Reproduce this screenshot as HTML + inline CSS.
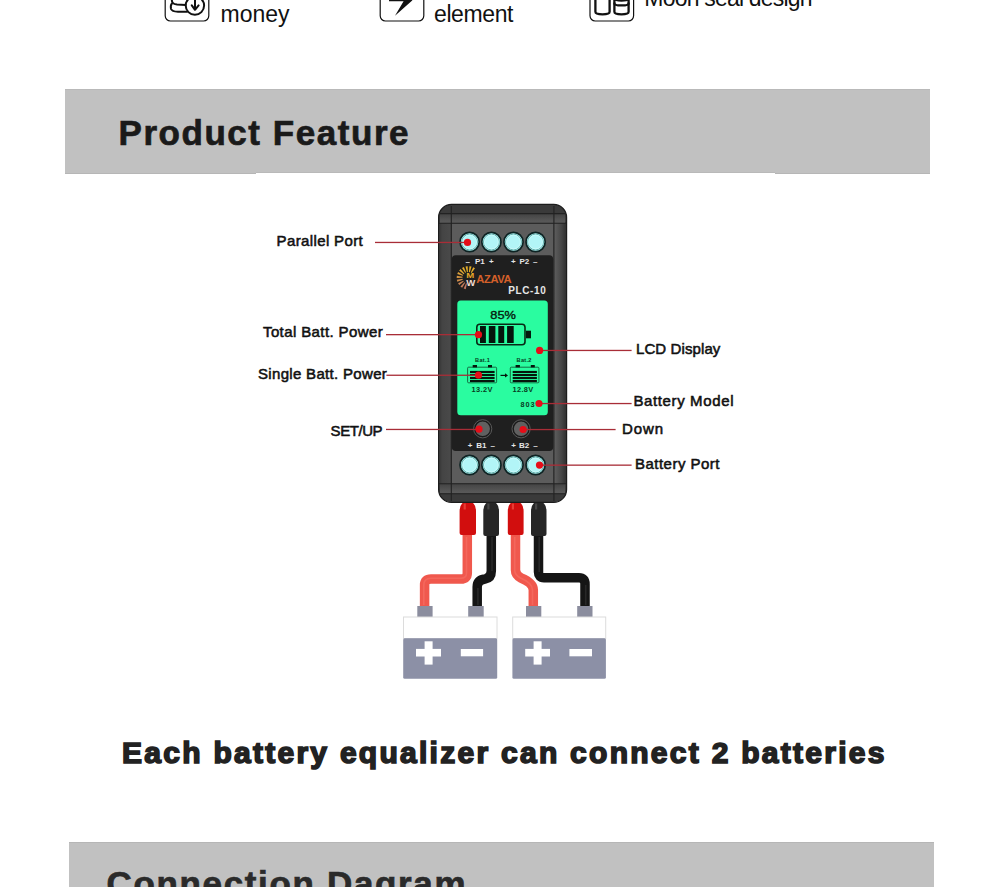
<!DOCTYPE html>
<html><head><meta charset="utf-8">
<style>
*{margin:0;padding:0;box-sizing:border-box}
html,body{width:1000px;height:887px;overflow:hidden;background:#fff}
body{position:relative;font-family:"Liberation Sans",sans-serif}
.a{position:absolute}
.banner{position:absolute;background:#c1c1c1}
.h1{position:absolute;font-weight:bold;color:#1a1a1a;white-space:nowrap;line-height:1}
.lbl{position:absolute;font-size:15px;color:#111;white-space:nowrap;line-height:1;-webkit-text-stroke:0.55px #111;letter-spacing:0.3px}
.ln{position:absolute;height:1.4px;background:#b4232f}
.dot{position:absolute;width:7px;height:7px;border-radius:50%;background:#d40f1c}
.itxt{position:absolute;font-size:23px;color:#111;white-space:nowrap;line-height:1}
</style></head>
<body>
<!-- top icons row -->
<svg class="a" style="left:0;top:0" width="1000" height="30" viewBox="0 0 1000 30">
<g fill="none" stroke="#111" stroke-width="1.2">
 <rect x="165.2" y="-26" width="43.6" height="47" rx="5.2"/>
 <rect x="380.2" y="-26" width="43.6" height="47" rx="5.2"/>
 <rect x="590" y="-26" width="43.6" height="47" rx="5.2"/>
</g>
<g fill="none" stroke="#111" stroke-width="2" stroke-linecap="round" stroke-linejoin="round">
 <path d="M172,-1 Q171,4 177,4.6 L185.5,5"/>
 <path d="M172,3.5 Q170.3,5 171,9 Q172,11.5 178,11.8 L187,11.8"/>
 <circle cx="194.9" cy="5.6" r="9.2"/>
 <path d="M195,-2 V9.8 M191.8,5.4 L195,9.8 L198.6,5.4"/>
 <g stroke-width="2.3">
 <path d="M595.4,-2 V11.8 Q595.4,14.4 602.5,14.4 Q609.6,14.4 609.6,11.8 V-2"/>
 <path d="M614.4,-2 V11.8 Q614.4,14.4 621.5,14.4 Q628.6,14.4 628.6,11.8 V-2"/>
 <path d="M614.4,-1.5 Q614.4,0.5 621.5,0.5 Q628.6,0.5 628.6,-1.5"/>
 <path d="M614.4,3.4 Q614.4,5.4 621.5,5.4 Q628.6,5.4 628.6,3.4"/>
 </g>
</g>
<path d="M389,-3 H413 L412.2,0.5 L395,15.8 L403.6,1.3 H389 Z" fill="#111"/>
</svg>
<div class="itxt" style="left:220.5px;top:3.2px">money</div>
<div class="itxt" style="left:434px;top:2.6px;letter-spacing:-0.4px">element</div>
<div class="itxt" style="left:644.3px;top:-13px;letter-spacing:-0.8px">Moon seal design</div>

<!-- banner 1 -->
<div class="banner" style="left:65px;top:89px;width:865px;height:85px;border-top:1px solid #b9b9b9;border-bottom:1px solid #b6b6b6"></div>
<div class="a" style="left:256px;top:173px;width:519px;height:1px;background:#fff"></div>
<div class="a" style="left:256px;top:172px;width:519px;height:1px;background:#b9b9b9"></div>
<div class="h1" style="left:118.5px;top:115px;font-size:35px;letter-spacing:1.55px;-webkit-text-stroke:0.7px #1a1a1a">Product Feature</div>

<svg class="a" style="left:0;top:0" width="1000" height="887" viewBox="0 0 1000 887">
<defs>
 <linearGradient id="sideL" x1="0" x2="1"><stop offset="0" stop-color="#363636"/><stop offset="0.25" stop-color="#444"/><stop offset="1" stop-color="#4a4a4a"/></linearGradient>
 <linearGradient id="sideR" x1="0" x2="1"><stop offset="0" stop-color="#5e5e5e"/><stop offset="0.6" stop-color="#474747"/><stop offset="1" stop-color="#303030"/></linearGradient>
 <linearGradient id="bootR" x1="0" x2="1"><stop offset="0" stop-color="#b00000"/><stop offset="0.35" stop-color="#e01818"/><stop offset="1" stop-color="#b40404"/></linearGradient>
 <linearGradient id="bootB" x1="0" x2="1"><stop offset="0" stop-color="#1a1a1a"/><stop offset="0.35" stop-color="#3a3a3a"/><stop offset="1" stop-color="#1c1c1c"/></linearGradient>
 <linearGradient id="band" x1="0" y1="0" x2="0" y2="1"><stop offset="0" stop-color="#444"/><stop offset="0.7" stop-color="#555"/><stop offset="1" stop-color="#5a5a5a"/></linearGradient>
</defs>
<!-- cables -->
<g fill="none" stroke-width="9.5" stroke-linejoin="round">
 <path d="M467.3,530 V573 Q467.3,579 461,579 H431 Q424.6,579 424.6,585 V607" stroke="#f0584d"/>
 <path d="M491.3,530 V571 Q491.3,578 485,579 Q477.2,580 477.2,587 V607" stroke="#151515"/>
 <path d="M515.5,530 V570 Q515.5,575 521,578 Q533.3,583 533.3,590 V607" stroke="#f0584d"/>
 <path d="M538.5,530 V572 Q538.5,577.8 544,577.8 H579 Q585,577.8 585,584 V607" stroke="#151515"/>
</g>
<g fill="none" stroke-width="1.6" stroke-linejoin="round" opacity="0.3">
 <path d="M466.5,537 V573 Q466.5,578.2 461,578.2 H431 Q423.8,578.2 423.8,585 V605" stroke="#ff8a80"/>
 <path d="M514.7,537 V570 Q514.7,575 520.5,578 Q532.5,583 532.5,590 V605" stroke="#ff8a80"/>
 <path d="M492,537 V571 M477.9,588 V605" stroke="#555"/>
 <path d="M539.2,537 V572 M585.7,585 V605" stroke="#555"/>
</g>
<!-- boots -->
<path d="M459.6,533 V511 Q459.6,506 462.1,503.5 Q463.6,501.6 467.8,501.6 Q472,501.6 473.5,503.5 Q476,506 476,511 V533 Q476,535 474,535 H461.6 Q459.6,535 459.6,533 Z" fill="#d20e0e"/><rect x="463.6" y="503.5" width="2.2" height="6" fill="#ff6a5a" opacity="0.5"/><path d="M483.3,534 V511 Q483.3,506 485.8,503.5 Q487.3,501.6 491.15,501.6 Q495,501.6 496.5,503.5 Q499,506 499,511 V534 Q499,536 497,536 H485.3 Q483.3,536 483.3,534 Z" fill="#262626"/><rect x="487.3" y="503.5" width="2.2" height="6" fill="#666" opacity="0.5"/><path d="M507.8,533 V511 Q507.8,506 510.3,503.5 Q511.8,501.6 515.7,501.6 Q519.6,501.6 521.1,503.5 Q523.6,506 523.6,511 V533 Q523.6,535 521.6,535 H509.8 Q507.8,535 507.8,533 Z" fill="#d20e0e"/><rect x="511.8" y="503.5" width="2.2" height="6" fill="#ff6a5a" opacity="0.5"/><path d="M531,534 V511 Q531,506 533.5,503.5 Q535,501.6 538.75,501.6 Q542.5,501.6 544.0,503.5 Q546.5,506 546.5,511 V534 Q546.5,536 544.5,536 H533 Q531,536 531,534 Z" fill="#262626"/><rect x="535" y="503.5" width="2.2" height="6" fill="#666" opacity="0.5"/>
<!-- terminals -->
<g fill="#8b8d9e">
 <rect x="417.3" y="606" width="15.3" height="11"/>
 <rect x="468.2" y="606" width="15.5" height="11"/>
 <rect x="526" y="606" width="15.3" height="11"/>
 <rect x="577.2" y="606" width="15.3" height="11"/>
</g>
<!-- batteries -->
<g>
 <rect x="403.5" y="617" width="93.5" height="21.5" fill="#fff" stroke="#dcdcdc" stroke-width="1"/>
 <rect x="403.2" y="638.2" width="94" height="40.6" rx="1.5" fill="#8c90a6"/>
 <rect x="416" y="648.9" width="25" height="7.6" fill="#fff"/>
 <rect x="424.6" y="641.3" width="8" height="23.3" fill="#fff"/>
 <rect x="460.8" y="649" width="22.3" height="7.3" fill="#fff"/>
 <rect x="512.7" y="617" width="93" height="21.5" fill="#fff" stroke="#dcdcdc" stroke-width="1"/>
 <rect x="512.4" y="638.2" width="93.5" height="40.6" rx="1.5" fill="#8c90a6"/>
 <rect x="525.2" y="648.9" width="24.8" height="7.6" fill="#fff"/>
 <rect x="533.6" y="641.3" width="8" height="23.3" fill="#fff"/>
 <rect x="569.4" y="649" width="22.6" height="7.3" fill="#fff"/>
</g>
<!-- device body -->
<rect x="438.6" y="204.4" width="128" height="298" rx="13" fill="#3a3a3a" stroke="#1c1c1c" stroke-width="1.2"/>
<rect x="439.2" y="222" width="12" height="262" fill="url(#sideL)"/>
<rect x="554" y="222" width="12" height="262" fill="url(#sideR)"/>
<rect x="451.5" y="223.5" width="102.3" height="260" fill="#5c5c5c"/>
<rect x="440" y="214" width="125" height="9" fill="url(#band)"/>
<rect x="440" y="484" width="125" height="9.5" fill="url(#band)"/>
<g stroke="#222" stroke-width="1.1">
 <line x1="439" y1="213.6" x2="566" y2="213.6"/>
 <line x1="439" y1="223.2" x2="566" y2="223.2"/>
 <line x1="439" y1="483.8" x2="566" y2="483.8"/>
 <line x1="439" y1="493.8" x2="566" y2="493.8"/>
 <line x1="451.3" y1="206" x2="451.3" y2="501"/>
 <line x1="553.9" y1="206" x2="553.9" y2="501"/>
</g>
<!-- dark panel -->
<rect x="451.8" y="255.3" width="101.4" height="195.7" rx="4" fill="#1f1f1f"/>
<!-- ports -->
<g stroke="#0e2424" stroke-width="1.7" fill="#b2f5f7"><circle cx="469.6" cy="242.0" r="9.6"/><circle cx="491.4" cy="242.0" r="9.6"/><circle cx="513.5" cy="242.0" r="9.6"/><circle cx="535.6" cy="242.0" r="9.6"/><circle cx="469.6" cy="465.0" r="9.6"/><circle cx="491.4" cy="465.0" r="9.6"/><circle cx="513.5" cy="465.0" r="9.6"/><circle cx="535.6" cy="465.0" r="9.6"/></g>
<g stroke="#5ea8a4" stroke-width="0.9" fill="none"><circle cx="469.6" cy="242.0" r="7.9"/><circle cx="491.4" cy="242.0" r="7.9"/><circle cx="513.5" cy="242.0" r="7.9"/><circle cx="535.6" cy="242.0" r="7.9"/><circle cx="469.6" cy="465.0" r="7.9"/><circle cx="491.4" cy="465.0" r="7.9"/><circle cx="513.5" cy="465.0" r="7.9"/><circle cx="535.6" cy="465.0" r="7.9"/></g>
<g stroke="#d2fbfb" stroke-width="0.7" fill="none"><circle cx="469.6" cy="242.0" r="6.9"/><circle cx="491.4" cy="242.0" r="6.9"/><circle cx="513.5" cy="242.0" r="6.9"/><circle cx="535.6" cy="242.0" r="6.9"/><circle cx="469.6" cy="465.0" r="6.9"/><circle cx="491.4" cy="465.0" r="6.9"/><circle cx="513.5" cy="465.0" r="6.9"/><circle cx="535.6" cy="465.0" r="6.9"/></g>
<!-- buttons -->
<g fill="#606060" stroke="#1a1a1a" stroke-width="1.3"><circle cx="482.7" cy="428.8" r="7.9"/><circle cx="521.1" cy="428.8" r="7.9"/></g>
<g fill="none" stroke="#585858" stroke-width="1"><circle cx="482.7" cy="428.8" r="9.1"/><circle cx="521.1" cy="428.8" r="9.1"/></g>
<!-- panel text -->
<g font-family="Liberation Sans" font-weight="bold" font-size="8" fill="#e6e6e6">
 <text x="465.5" y="263.6">–</text><text x="475" y="263.6">P1</text><text x="489" y="263.6">+</text>
 <text x="511" y="263.6">+</text><text x="519.5" y="263.6">P2</text><text x="533" y="263.6">–</text>
 <text x="467.8" y="447.8">+</text><text x="476.2" y="447.8">B1</text><text x="490.4" y="447.8">–</text>
 <text x="511.3" y="447.8">+</text><text x="519.1" y="447.8">B2</text><text x="533.3" y="447.8">–</text>
 <text x="508.3" y="293.7" font-size="10" letter-spacing="0.6">PLC-10</text>
</g>
<!-- logo -->
<g id="logo">
 <g><polygon points="466.08,283.18 463.72,288.51 465.71,289.16 466.94,283.46" fill="rgb(192, 119, 98)"/><polygon points="464.43,282.15 460.45,286.40 462.12,287.67 465.15,282.69" fill="rgb(196, 124, 93)"/><polygon points="463.22,280.63 458.06,283.34 459.22,285.09 463.72,281.38" fill="rgb(200, 131, 86)"/><polygon points="462.57,278.81 456.80,279.67 457.33,281.70 462.79,279.68" fill="rgb(207, 140, 77)"/><polygon points="462.56,276.87 456.83,275.78 456.65,277.88 462.48,277.76" fill="rgb(213, 150, 67)"/><polygon points="463.18,275.03 458.13,272.12 457.28,274.04 462.82,275.85" fill="rgb(220, 160, 57)"/><polygon points="464.38,273.50 460.56,269.09 459.13,270.62 463.76,274.16" fill="rgb(225, 168, 49)"/><polygon points="466.01,272.45 463.86,267.03 462.00,268.01 465.21,272.87" fill="rgb(229, 174, 43)"/><polygon points="467.90,272.00 467.64,266.17 465.57,266.48 467.01,272.13" fill="rgb(231, 177, 40)"/><polygon points="469.83,272.19 471.51,266.60 469.44,266.21 468.94,272.02" fill="rgb(231, 177, 40)"/><polygon points="471.59,273.00 475.01,268.28 473.19,267.23 470.81,272.55" fill="rgb(229, 173, 44)"/></g>
 <text x="466.3" y="278.2" font-family="Liberation Sans" font-weight="bold" font-size="7" fill="#e8a828" textLength="8" lengthAdjust="spacingAndGlyphs">M</text>
 <text x="466.2" y="285.8" font-family="Liberation Sans" font-weight="bold" font-size="8.5" fill="#f2dcd2" textLength="9" lengthAdjust="spacingAndGlyphs">W</text>
 <text x="476.3" y="282.8" font-family="Liberation Sans" font-weight="bold" font-size="11.2" fill="#d5602a" letter-spacing="-0.4">AZAVA</text>
</g>
<!-- LCD -->
<rect x="457.3" y="300.5" width="90.5" height="114.7" rx="3.5" fill="#2afca0"/>
<text x="490.3" y="318.8" font-family="Liberation Sans" font-size="11" textLength="25.6" lengthAdjust="spacingAndGlyphs" fill="#06200f" stroke="#06200f" stroke-width="0.35">85%</text>
<rect x="476.8" y="324.2" width="48.2" height="20.6" rx="3" fill="none" stroke="#082a16" stroke-width="1.6"/>
<rect x="526" y="330.7" width="5" height="7.6" fill="#051a0e"/>
<g fill="#04160c">
 <rect x="480" y="326" width="5.9" height="17"/><rect x="488.8" y="326" width="6.6" height="17"/><rect x="498.3" y="326" width="5.9" height="17"/><rect x="507.1" y="326" width="6.6" height="17"/>
</g>
<!-- small batteries -->
<g font-family="Liberation Sans" font-weight="bold" fill="#083c22">
 <text x="475.1" y="362.3" font-size="5.6" letter-spacing="0.3">Bat.1</text>
 <text x="516.6" y="362.3" font-size="5.6" letter-spacing="0.3">Bat.2</text>
 <text x="471.6" y="392" font-size="7.4" letter-spacing="0.4">13.2V</text>
 <text x="512.4" y="392" font-size="7.4" letter-spacing="0.4">12.8V</text>
 <text x="520.6" y="407.4" font-size="7.3" letter-spacing="0.9">803</text>
</g>
<g fill="none" stroke="#0f4a2c" stroke-width="0.8">
 <rect x="467.6" y="367.2" width="29" height="15.6" rx="1"/>
 <rect x="510.3" y="367.2" width="28.6" height="15.6" rx="1"/>
</g>
<g fill="#04160c">
 <rect x="472.7" y="365" width="4.3" height="2.4"/><rect x="488" y="365" width="4" height="2.4"/>
 <rect x="515.6" y="365" width="4.3" height="2.4"/><rect x="530.8" y="365" width="4" height="2.4"/>
 <rect x="470" y="370.9" width="24.6" height="2.1"/><rect x="470" y="373.9" width="24.6" height="2.1"/><rect x="470" y="376.9" width="24.6" height="2.1"/><rect x="470" y="379.9" width="24.6" height="2.1"/>
 <rect x="512.7" y="370.9" width="24.2" height="2.1"/><rect x="512.7" y="373.9" width="24.2" height="2.1"/><rect x="512.7" y="376.9" width="24.2" height="2.1"/><rect x="512.7" y="379.9" width="24.2" height="2.1"/>
 <rect x="500.5" y="374.8" width="5.5" height="1.2"/>
 <path d="M508,375.4 L505,373.2 V377.6 Z"/>
</g>
<!-- leader lines -->
<g fill="#a82d37">
 <rect x="375" y="241.8" width="93" height="1.3"/>
 <rect x="386" y="334" width="92" height="1.3"/>
 <rect x="386.4" y="374.6" width="92" height="1.3"/>
 <rect x="386" y="428.8" width="93" height="1.3"/>
 <rect x="539.6" y="349.8" width="92" height="1.3"/>
 <rect x="539" y="402.9" width="92.6" height="1.3"/>
 <rect x="523" y="428.9" width="92.6" height="1.3"/>
 <rect x="539.5" y="464.5" width="92.1" height="1.3"/>
</g>
<g fill="#e60d18">
 <circle cx="467.5" cy="242.4" r="3.6"/>
 <circle cx="478.5" cy="334.7" r="3.6"/>
 <circle cx="478.5" cy="375.2" r="3.6"/>
 <circle cx="479" cy="429.2" r="3.6"/>
 <circle cx="539.6" cy="350.4" r="3.6"/>
 <circle cx="539" cy="403.5" r="3.6"/>
 <circle cx="523.1" cy="429.5" r="3.6"/>
 <circle cx="539.5" cy="465.1" r="3.6"/>
</g>
</svg>


<!-- labels -->
<div class="lbl" style="left:276.6px;top:233px;letter-spacing:0.37px">Parallel Port</div>
<div class="lbl" style="left:263px;top:324px;letter-spacing:0.39px">Total Batt. Power</div>
<div class="lbl" style="left:258px;top:366px;letter-spacing:0.32px">Single Batt. Power</div>
<div class="lbl" style="left:330.6px;top:423px;letter-spacing:-0.45px">SET/UP</div>
<div class="lbl" style="left:636px;top:341px;letter-spacing:0.1px">LCD Display</div>
<div class="lbl" style="left:633.4px;top:393px;letter-spacing:0.63px">Battery Model</div>
<div class="lbl" style="left:622px;top:421px;letter-spacing:0.95px">Down</div>
<div class="lbl" style="left:635px;top:456px;letter-spacing:0.48px">Battery Port</div>

<!-- bottom text -->
<div class="h1" style="left:122px;top:737.8px;font-size:30px;color:#222;letter-spacing:2.27px;-webkit-text-stroke:1.6px #222">Each battery equalizer can connect 2 batteries</div>

<!-- banner 2 -->
<div class="banner" style="left:69px;top:842px;width:865px;height:60px;border-top:1px solid #b6b6b6"></div>
<div class="h1" style="left:106.5px;top:866px;font-size:35px;color:#2a2a2a;letter-spacing:1.66px;-webkit-text-stroke:0.7px #2a2a2a">Connection Dagram</div>
</body></html>
